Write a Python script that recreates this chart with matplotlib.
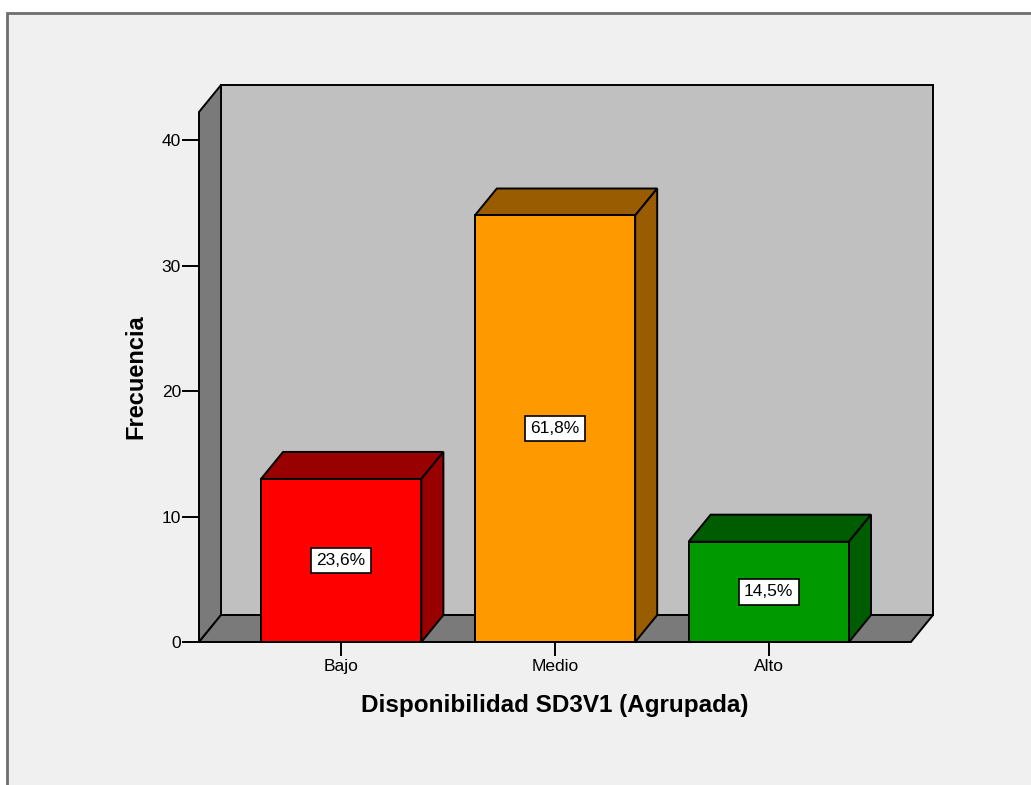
import matplotlib
matplotlib.use("Agg")
import matplotlib.pyplot as plt
from matplotlib.patches import Polygon, Rectangle

# Frequencies per grouped category
categories = ["Bajo", "Medio", "Alto"]
counts = [13, 34, 8]
percent_labels = ["23,6%", "61,8%", "14,5%"]
y_ticks = [0, 10, 20, 30, 40]

front_colors = ["#FF0000", "#FF9900", "#009900"]
side_colors = ["#990000", "#9A5C00", "#005C00"]

plt.rcParams["font.family"] = ["Liberation Sans", "DejaVu Sans"]

W, H = 1031, 785
fig = plt.figure(figsize=(W / 100, H / 100), dpi=100, facecolor="white")

# Panel background with a grey frame on top and left
panel = Rectangle((7 / W, -0.1), 1.2, 1 - 13 / H + 0.1,
                  transform=fig.transFigure, facecolor="#F0F0F0",
                  edgecolor="#6E6E6E", linewidth=2.0, zorder=-10)
fig.add_artist(panel)

# Axes: front plane x from -0.665 to 2.768 (back wall right), y from 0 to 44.4
x0, x1 = -0.665, 2.768
y0, y1 = 0.0, 44.4
ax = fig.add_axes([199 / W, 1 - 642 / H, (933 - 199) / W, (642 - 85) / H])
ax.set_zorder(5)
ax.set_xlim(x0, x1)
ax.set_ylim(y0, y1)
ax.patch.set_visible(False)
for s in ax.spines.values():
    s.set_visible(False)

dx = 0.103   # depth offset in category units
dy = 2.15    # depth offset in count units
front_right = x1 - dx
wall_top = y1 - dy
lw = 1.4

# Back wall
ax.add_patch(Polygon([(x0 + dx, dy), (x1, dy), (x1, y1), (x0 + dx, y1)],
                     closed=True, facecolor="#C0C0C0", edgecolor="black",
                     linewidth=lw, clip_on=False, zorder=1))
# Left wall
ax.add_patch(Polygon([(x0, 0), (x0 + dx, dy), (x0 + dx, y1), (x0, wall_top)],
                     closed=True, facecolor="#7A7A7A", edgecolor="black",
                     linewidth=lw, clip_on=False, zorder=1))
# Floor
ax.add_patch(Polygon([(x0, 0), (front_right, 0), (x1, dy), (x0 + dx, dy)],
                     closed=True, facecolor="#7A7A7A", edgecolor="black",
                     linewidth=lw, clip_on=False, zorder=1))

# 3D bars
bw = 0.375
for i, (v, fc, sc, lab) in enumerate(zip(counts, front_colors, side_colors, percent_labels)):
    l, r = i - bw, i + bw
    ax.add_patch(Polygon([(l, v), (l + dx, v + dy), (r + dx, v + dy), (r, v)],
                         closed=True, facecolor=sc, edgecolor="black",
                         linewidth=lw, clip_on=False, zorder=3))
    ax.add_patch(Polygon([(r, 0), (r + dx, dy), (r + dx, v + dy), (r, v)],
                         closed=True, facecolor=sc, edgecolor="black",
                         linewidth=lw, clip_on=False, zorder=3))
    ax.add_patch(Rectangle((l, 0), 2 * bw, v, facecolor=fc, edgecolor="black",
                           linewidth=lw, clip_on=False, zorder=4))
    ax.text(i, v / 2, lab, ha="center", va="center", fontsize=12.5, zorder=5,
            bbox=dict(boxstyle="square,pad=0.3", facecolor="white",
                      edgecolor="black", linewidth=1.2))

ax.set_xticks(range(len(categories)))
ax.set_xticklabels(categories, fontsize=12.5)
ax.set_yticks(y_ticks)
ax.set_yticklabels([str(t) for t in y_ticks], fontsize=12.5)
ax.tick_params(axis="x", length=10, width=1.4, pad=2, colors="black")
ax.tick_params(axis="y", length=12, width=1.4, pad=1, colors="black")

ax.set_xlabel("Disponibilidad SD3V1 (Agrupada)", fontsize=17.5, fontweight="bold")
ax.set_ylabel("Frecuencia", fontsize=17, fontweight="bold")
# Center the axis titles on the front plane of the box
ax.xaxis.set_label_coords(0.4843, -0.093)
ax.yaxis.set_label_coords(-0.071, 0.476)

fig.savefig("out.png", dpi=100, facecolor=fig.get_facecolor())
